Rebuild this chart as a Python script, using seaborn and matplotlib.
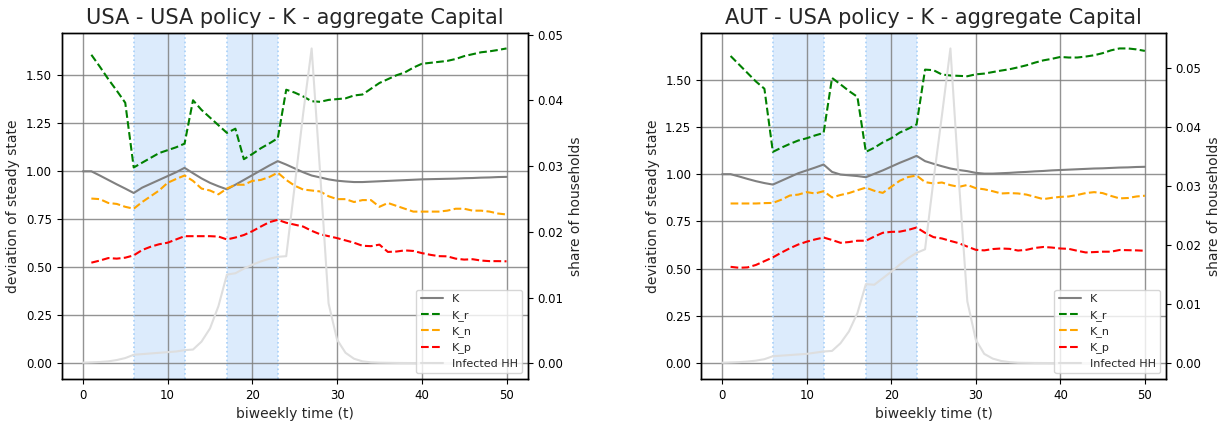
import numpy as np
import pandas as pd
import matplotlib
matplotlib.use("Agg")
import matplotlib.pyplot as plt
import seaborn as sns

# ---- data -------------------------------------------------------------
t_all = list(range(0, 51))      # K and infected households start at t=0
t_sub = list(range(1, 51))      # group capital series start at t=1

policy_spans = [(6, 12), (17, 23)]

usa_K = [1.0, 1.0, 0.978, 0.955, 0.932, 0.91, 0.887, 0.915, 0.935, 0.955,
         0.975, 0.995, 1.018, 0.99, 0.963, 0.94, 0.922, 0.906, 0.93, 0.955,
         0.98, 1.005, 1.03, 1.053, 1.035, 1.015, 0.995, 0.978, 0.968, 0.958,
         0.951, 0.947, 0.944, 0.944, 0.946, 0.948, 0.95, 0.952, 0.954, 0.956,
         0.958, 0.959, 0.96, 0.961, 0.962, 0.964, 0.965, 0.967, 0.968, 0.97, 0.971]
usa_K_r = [1.607, 1.545, 1.48, 1.42, 1.357, 1.02, 1.045, 1.07, 1.095, 1.11,
           1.125, 1.144, 1.37, 1.32, 1.28, 1.24, 1.2, 1.222, 1.063, 1.09,
           1.12, 1.145, 1.172, 1.425, 1.41, 1.39, 1.365, 1.362, 1.372, 1.376,
           1.38, 1.395, 1.40, 1.43, 1.46, 1.48, 1.50, 1.515, 1.54, 1.56,
           1.565, 1.57, 1.575, 1.585, 1.60, 1.61, 1.62, 1.625, 1.632, 1.64]
usa_K_n = [0.858, 0.855, 0.835, 0.83, 0.815, 0.805, 0.84, 0.87, 0.9, 0.94,
           0.96, 0.978, 0.95, 0.91, 0.9, 0.88, 0.91, 0.93, 0.93, 0.95,
           0.955, 0.97, 0.993, 0.955, 0.925, 0.905, 0.9, 0.895, 0.87, 0.855,
           0.855, 0.84, 0.85, 0.85, 0.815, 0.835, 0.82, 0.805, 0.79, 0.79,
           0.79, 0.79, 0.795, 0.805, 0.805, 0.795, 0.795, 0.79, 0.78, 0.775]
usa_K_p = [0.524, 0.535, 0.548, 0.545, 0.55, 0.562, 0.59, 0.607, 0.62, 0.628,
           0.645, 0.662, 0.662, 0.662, 0.662, 0.66, 0.645, 0.655, 0.668, 0.688,
           0.712, 0.735, 0.747, 0.732, 0.722, 0.712, 0.69, 0.672, 0.662, 0.652,
           0.64, 0.628, 0.612, 0.61, 0.618, 0.58, 0.582, 0.588, 0.585, 0.574,
           0.565, 0.558, 0.557, 0.545, 0.54, 0.542, 0.535, 0.532, 0.532, 0.531]
usa_infected = [0.0001, 0.00015, 0.0002, 0.0003, 0.0005, 0.0008, 0.0013, 0.0014, 0.0015, 0.0016,
                0.0017, 0.0018, 0.002, 0.0021, 0.0033, 0.0053, 0.0087, 0.0135, 0.0137, 0.0144,
                0.015, 0.0155, 0.0159, 0.0162, 0.0163, 0.027, 0.038, 0.0479, 0.029, 0.0091,
                0.0036, 0.0016, 0.0007, 0.0003, 0.00015, 0.0001, 0.00008, 0.00006, 0.00005, 0.00004,
                0.00003, 0.00003, 0.00002, 0.00002, 0.00002, 0.00001, 0.00001, 0.00001, 0.00001,
                0.00001, 0.00001]

aut_K = [1.0, 1.0, 0.988, 0.975, 0.963, 0.953, 0.945, 0.965, 0.985, 1.005,
         1.02, 1.035, 1.051, 1.012, 0.998, 0.994, 0.99, 0.984, 1.002, 1.02,
         1.04, 1.06, 1.078, 1.097, 1.069, 1.055, 1.042, 1.03, 1.022, 1.016,
         1.007, 1.003, 1.003, 1.005, 1.007, 1.01, 1.012, 1.015, 1.017, 1.02,
         1.022, 1.024, 1.026, 1.028, 1.03, 1.031, 1.033, 1.035, 1.036, 1.038, 1.039]
aut_K_r = [1.625, 1.58, 1.535, 1.49, 1.452, 1.118, 1.14, 1.16, 1.178, 1.19,
           1.205, 1.218, 1.509, 1.475, 1.44, 1.409, 1.118, 1.14, 1.168, 1.19,
           1.22, 1.24, 1.263, 1.553, 1.55, 1.527, 1.522, 1.52, 1.518, 1.528,
           1.532, 1.54, 1.548, 1.555, 1.565, 1.576, 1.59, 1.602, 1.61, 1.62,
           1.617, 1.617, 1.622, 1.629, 1.64, 1.655, 1.665, 1.665, 1.66, 1.652]
aut_K_n = [0.845, 0.845, 0.845, 0.845, 0.847, 0.848, 0.865, 0.887, 0.892, 0.905,
           0.898, 0.91, 0.877, 0.89, 0.9, 0.915, 0.929, 0.912, 0.901, 0.933,
           0.965, 0.985, 0.993, 0.958, 0.951, 0.956, 0.942, 0.933, 0.943, 0.926,
           0.92, 0.91, 0.898, 0.9, 0.898, 0.892, 0.88, 0.868, 0.875, 0.88,
           0.882, 0.89, 0.9, 0.905, 0.9, 0.885, 0.872, 0.874, 0.882, 0.886]
aut_K_p = [0.51, 0.505, 0.507, 0.52, 0.54, 0.56, 0.585, 0.608, 0.628, 0.643,
           0.655, 0.665, 0.652, 0.637, 0.641, 0.648, 0.648, 0.67, 0.69, 0.695,
           0.696, 0.705, 0.718, 0.69, 0.667, 0.66, 0.647, 0.635, 0.617, 0.6,
           0.597, 0.604, 0.607, 0.605, 0.596, 0.6, 0.61, 0.615, 0.612, 0.607,
           0.605, 0.595, 0.586, 0.588, 0.59, 0.59, 0.599, 0.598, 0.597, 0.595]
aut_infected = [0.0001, 0.00015, 0.0002, 0.0003, 0.00045, 0.0007, 0.0012, 0.0013, 0.0014, 0.0015,
                0.0016, 0.0018, 0.002, 0.0021, 0.0034, 0.0054, 0.0085, 0.0134, 0.0133, 0.0144,
                0.0155, 0.0167, 0.0178, 0.0187, 0.0193, 0.031, 0.042, 0.0533, 0.031, 0.0105,
                0.004, 0.0016, 0.0008, 0.0004, 0.0002, 0.0001, 0.00008, 0.00006, 0.00005, 0.00004,
                0.00003, 0.00003, 0.00002, 0.00002, 0.00002, 0.00001, 0.00001, 0.00001, 0.00001,
                0.00001, 0.00001]

panels = [
    ("USA - USA policy - K - aggregate Capital", usa_K, usa_K_r, usa_K_n, usa_K_p, usa_infected),
    ("AUT - USA policy - K - aggregate Capital", aut_K, aut_K_r, aut_K_n, aut_K_p, aut_infected),
]

# ---- styling ----------------------------------------------------------
sns.set_style("ticks")
plt.rcParams["font.family"] = ["DejaVu Sans"]
plt.rcParams["axes.edgecolor"] = "black"
plt.rcParams["axes.linewidth"] = 1.0
plt.rcParams["xtick.color"] = "black"
plt.rcParams["ytick.color"] = "black"

fig = plt.figure(figsize=(12.21, 4.21), dpi=100)
positions = [
    [61.7 / 1221, 42 / 421, 466 / 1221, 346.3 / 421],
    [701 / 1221, 42 / 421, 465 / 1221, 346.3 / 421],
]

for pos, (title, K, K_r, K_n, K_p, infected) in zip(positions, panels):
    ax = fig.add_axes(pos)
    ax.grid(True, color="#808080", linewidth=1.0, alpha=0.85)
    ax.set_axisbelow(True)

    for start, end in policy_spans:
        ax.axvspan(start, end, facecolor="#dcebfc", edgecolor="none", zorder=0.5)
        for edge in (start, end):
            ax.axvline(edge, color="#a8d0f8", linestyle=":", linewidth=1.2, zorder=0.6)

    sns.lineplot(x=t_all, y=K, ax=ax, color="gray", linewidth=1.5, label="K", legend=False)
    sns.lineplot(x=t_sub, y=K_r, ax=ax, color="green", linestyle="--", linewidth=1.5,
                 label="K_r", legend=False)
    sns.lineplot(x=t_sub, y=K_n, ax=ax, color="orange", linestyle="--", linewidth=1.5,
                 label="K_n", legend=False)
    sns.lineplot(x=t_sub, y=K_p, ax=ax, color="red", linestyle="--", linewidth=1.5,
                 label="K_p", legend=False)

    top = max(K_r)
    ax.set_ylim(-0.05 * top, 1.05 * top)
    ax.set_xlim(-2.5, 52.5)
    ax.set_xlabel("biweekly time (t)", fontsize=10)
    ax.set_ylabel("deviation of steady state", fontsize=10)
    ax.tick_params(labelsize=8.5)
    ax.set_title(title, fontsize=15)

    ax2 = ax.twinx()
    sns.lineplot(x=t_all, y=infected, ax=ax2, color="#dedede", linewidth=1.5,
                 label="Infected HH", legend=False)
    ax2.set_ylabel("share of households", fontsize=10)
    ax2.tick_params(labelsize=8.5)
    ax2.grid(False)
    ax2.set_xlim(-2.5, 52.5)

    h1, l1 = ax.get_legend_handles_labels()
    h2, l2 = ax2.get_legend_handles_labels()
    ax2.legend(h1 + h2, l1 + l2, loc="lower right", fontsize=8, frameon=True)

fig.savefig("out.png", dpi=100)
